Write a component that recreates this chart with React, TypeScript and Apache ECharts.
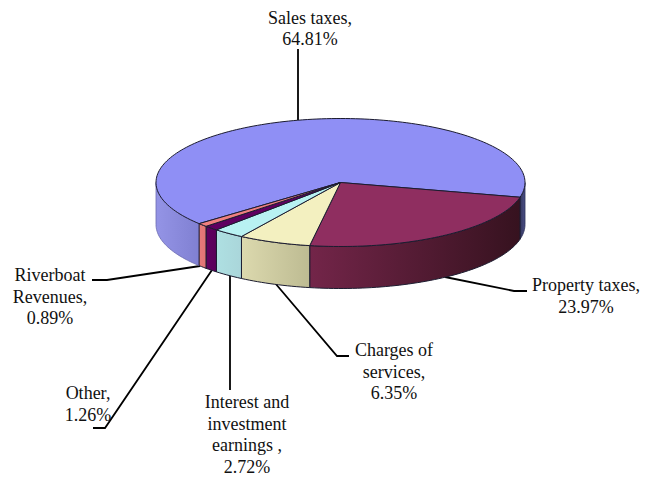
import React, { useEffect, useRef } from "react";
import * as echarts from "echarts";

const categories = ["Sales taxes", "Property taxes", "Charges of services", "Interest and investment earnings", "Other", "Riverboat Revenues"];
const shares = [64.81, 23.97, 6.35, 2.72, 1.26, 0.89];
const topColors = ["#8f8ff5", "#8f2e60", "#f3f0c0", "#b8f2f2", "#5f0060", "#f08080"];
const sideLeft = ["#9494e6", "#732549", "#dcd9ae", "#aee0e2", "#5f0060", "#e57a7a"];
const sideRight = ["#8080d2", "#36121f", "#bdbb92", "#aad6da", "#5a005a", "#e07474"];
const labelLines = [
  ["Sales taxes,", "64.81%"],
  ["Property taxes,", "23.97%"],
  ["Charges of", "services,", "6.35%"],
  ["Interest and", "investment", "earnings ,", "2.72%"],
  ["Other,", "1.26%"],
  ["Riverboat", "Revenues,", "0.89%"],
];
const labelAnchors = [
  [310, 17.5],
  [586, 285],
  [394, 350],
  [247, 402],
  [88, 393],
  [50, 275],
];
const leaders = [
  [[298, 49], [298, 120]],
  [[445, 277], [514, 291], [527, 291]],
  [[275, 283], [337, 356], [349, 356]],
  [[230, 275], [230, 390]],
  [[212, 270], [105, 428], [93, 428]],
  [[200, 266], [107, 280], [92, 280]],
];

const CX = 340.5;
const CY = 182.5;
const RX = 184.5;
const RY = 64;
const DEPTH = 42;
const START_DEG = 140;
const EDGE = "#1c1c30";
const FONT = "Liberation Serif";

const pt = (deg: number, dy = 0): number[] => {
  const r = (deg * Math.PI) / 180;
  return [CX + RX * Math.cos(r), CY + RY * Math.sin(r) + dy];
};

const arc = (a: number, b: number, dy = 0): number[][] => {
  const n = Math.max(2, Math.ceil(Math.abs(b - a) / 1.5));
  const out: number[][] = [];
  for (let i = 0; i <= n; i++) out.push(pt(a + ((b - a) * i) / n, dy));
  return out;
};

const frontRanges = (a: number, b: number): number[][] => {
  const res: number[][] = [];
  for (const [lo, hi] of [[0, 180], [360, 540]]) {
    const s = Math.max(a, lo);
    const e = Math.min(b, hi);
    if (e > s) res.push([s, e]);
  }
  return res;
};

const renderSlice = (params: any, api: any) => {
  const idx = params.dataIndex;
  const before = shares.slice(0, idx).reduce((s, v) => s + v, 0);
  const value = api.value(1) as number;
  const total = shares.reduce((s, v) => s + v, 0);
  const a = START_DEG + (before / total) * 360;
  const b = a + (value / total) * 360;
  const children: any[] = [];
  for (const [s, e] of frontRanges(a, b)) {
    const top = arc(s, e);
    const bottom = arc(e, s, DEPTH);
    const sliver = idx === 0 && s >= 360;
    children.push({
      type: "polygon",
      shape: { points: top.concat(bottom) },
      style: {
        fill: new echarts.graphic.LinearGradient(0, 0, 1, 0, [
          { offset: 0, color: sliver ? "#35385f" : sideLeft[idx] },
          { offset: 1, color: sliver ? "#4a4e86" : sideRight[idx] },
        ]),
        stroke: idx === 0 ? (sliver ? "#2a2d55" : "#6a6ab0") : EDGE,
        lineWidth: idx === 0 ? 0.8 : 1,
        lineJoin: "round",
      },
    });
  }
  children.push({
    type: "polygon",
    shape: { points: [[CX, CY]].concat(arc(a, b)) },
    style: { fill: topColors[idx], stroke: EDGE, lineWidth: 1, lineJoin: "round" },
  });
  return { type: "group", children };
};

export default function App() {
  const ref = useRef<HTMLDivElement>(null);
  useEffect(() => {
    const chart = echarts.init(ref.current!, undefined, { renderer: "svg" });
    const graphics: any[] = [];
    leaders.forEach((pts) => {
      graphics.push({
        type: "polyline",
        shape: { points: pts },
        style: { stroke: "#000", lineWidth: 1.8, fill: "none" },
        z: 1,
      });
    });
    labelLines.forEach((lines, i) => {
      lines.forEach((t, j) => {
        graphics.push({
          type: "text",
          x: labelAnchors[i][0],
          y: labelAnchors[i][1] + j * 21.7,
          style: {
            text: t,
            fontFamily: FONT,
            fontSize: 18,
            fill: "#111",
            align: "center",
            verticalAlign: "middle",
          },
          z: 3,
        });
      });
    });
    chart.setOption({
      animation: false,
      backgroundColor: "#fff",
      graphic: graphics,
      series: [
        {
          type: "custom",
          coordinateSystem: "none",
          renderItem: renderSlice,
          data: categories.map((c, i) => ({ name: c, value: [i, shares[i]] })),
          z: 2,
        },
      ],
    });
    return () => chart.dispose();
  }, []);
  return <div ref={ref} style={{ position: "fixed", left: 0, top: 0, width: 655, height: 477 }} />;
}
